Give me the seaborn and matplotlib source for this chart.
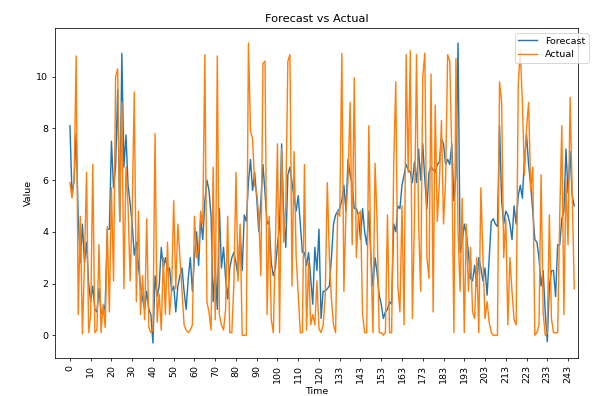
import matplotlib
matplotlib.use("Agg")
import matplotlib.pyplot as plt
import seaborn as sns
import numpy as np

actual = [
    5.9, 5.3, 6.0, 10.8, 0.8, 4.6, 0.05, 2.8, 6.3, 0.1,
    0.8, 6.6, 0.1, 0.2, 3.5, 0.1, 1.2, 0.3, 4.2, 0.9,
    5.7, 2.1, 10.0, 10.3, 4.4, 9.0, 1.8, 6.5, 5.0, 2.1,
    4.8, 9.4, 1.3, 4.8, 0.8, 2.3, 0.6, 4.5, 0.3, 0.1,
    0.2, 7.8, 0.5, 1.6, 0.2, 3.0, 0.8, 3.6, 0.8, 1.8,
    5.2, 1.8, 4.3, 3.0, 1.7, 0.4, 0.2, 0.1, 0.2, 0.4,
    4.6, 3.0, 3.3, 4.8, 4.3, 10.85, 1.3, 0.9, 0.2, 6.5,
    0.6, 10.8, 0.8, 0.4, 0.2, 1.0, 4.6, 0.1, 0.1, 2.0,
    6.3, 2.1, 4.3, 0.0, 0.0, 0.0, 11.3, 7.9, 7.6, 5.8,
    5.5, 4.6, 2.3, 10.5, 10.6, 0.8, 4.6, 0.6, 0.1, 3.5,
    7.4, 0.1, 7.2, 3.6, 5.0, 10.6, 10.85, 1.9, 7.1, 3.0,
    1.6, 0.1, 0.1, 6.6, 0.2, 2.8, 0.4, 0.8, 0.4, 2.1,
    0.25, 0.1, 0.4, 1.5, 5.9, 3.0, 1.4, 0.4, 0.1, 4.8,
    4.6, 10.9, 1.7, 4.8, 6.0, 9.0, 3.5, 9.95, 3.0, 4.65,
    4.8, 0.8, 0.1, 0.1, 8.1, 3.0, 0.1, 6.65, 4.4, 0.1,
    0.1, 0.0, 0.1, 4.65, 0.1, 0.1, 6.6, 9.8, 1.9, 0.9,
    5.0, 0.4, 10.85, 6.3, 11.0, 0.65, 4.5, 10.85, 4.3, 1.7,
    10.0, 10.9, 3.0, 2.2, 10.1, 0.9, 8.9, 4.4, 5.9, 8.3,
    4.3, 6.0, 10.85, 10.6, 7.0, 0.1, 10.7, 4.0, 1.7, 5.3,
    0.1, 4.3, 1.7, 3.4, 0.9, 0.65, 3.0, 0.1, 5.7, 3.0,
    0.65, 1.3, 0.5, 0.1, 0.0, 0.0, 0.0, 9.8, 9.0, 3.0,
    4.5, 0.4, 3.0, 1.7, 0.6, 0.4, 9.7, 11.0, 9.0, 6.2,
    8.0, 9.0, 5.6, 6.5, 0.0, 0.1, 0.4, 6.2, 0.9, 0.0,
    0.1, 4.65, 0.65, 0.1, 0.1, 0.1, 4.6, 8.1, 0.8, 6.0,
    3.5, 9.2, 5.5, 1.8,
]

forecast = [
    8.1, 5.4, 6.0, 7.8, 4.5, 2.8, 4.3, 2.8, 3.6, 2.0,
    1.3, 1.9, 1.0, 0.9, 1.8, 0.9, 0.8, 1.2, 4.1, 4.1,
    7.5, 5.7, 6.5, 9.5, 4.4, 10.9, 6.5, 7.75, 5.8, 5.1,
    4.3, 3.1, 3.6, 2.7, 1.9, 1.4, 1.0, 1.7, 1.0, 0.8,
    -0.3, 2.3, 1.5, 1.9, 3.4, 2.6, 3.0, 2.5, 2.6, 1.7,
    1.9, 0.9, 1.9, 2.3, 2.6, 1.7, 1.0, 2.2, 3.0, 1.7,
    3.0, 4.0, 2.7, 4.5, 3.7, 5.2, 6.0, 5.6, 4.6, 1.3,
    2.6, 1.0, 4.9, 2.6, 3.4, 2.2, 1.4, 2.6, 3.0, 3.2,
    2.8, 2.3, 4.0, 2.5, 4.65, 4.4, 5.9, 6.8, 5.6, 6.3,
    5.3, 4.0, 5.2, 6.6, 5.5, 4.3, 4.4, 2.8, 2.3, 2.6,
    3.5, 4.2, 7.4, 4.6, 3.4, 6.2, 6.5, 5.9, 5.3, 4.8,
    5.4, 4.3, 3.2, 3.2, 2.7, 3.2, 2.2, 1.2, 3.4, 2.5,
    4.1, 0.65, 1.7, 1.7, 1.8, 1.9, 3.0, 4.3, 4.65, 4.8,
    4.9, 5.2, 5.8, 4.8, 6.8, 6.2, 5.8, 4.9, 4.9, 4.65,
    3.7, 4.9, 4.0, 3.5, 4.8, 3.0, 1.9, 3.0, 2.4, 1.55,
    1.2, 0.65, 0.9, 1.0, 1.3, 1.2, 4.3, 4.0, 5.0, 4.9,
    5.8, 6.2, 6.6, 6.4, 6.3, 5.9, 6.7, 5.9, 7.2, 6.0,
    7.4, 6.0, 4.9, 6.3, 6.5, 6.4, 6.3, 6.6, 6.7, 7.6,
    7.4, 6.6, 6.8, 6.6, 7.4, 5.2, 6.2, 11.3, 3.2, 3.6,
    4.3, 3.9, 3.2, 2.2, 2.1, 2.7, 1.9, 3.0, 2.6, 2.1,
    2.6, 1.55, 3.0, 4.4, 4.5, 4.3, 4.2, 8.1, 5.2, 4.3,
    4.8, 4.65, 4.3, 3.7, 5.0, 4.3, 5.4, 5.8, 5.3, 6.8,
    7.75, 6.6, 5.8, 4.8, 3.7, 3.6, 3.0, 1.9, 2.5, 0.9,
    -0.25, 1.9, 2.5, 2.5, 1.5, 3.5, 3.5, 4.5, 4.8, 7.2,
    5.5, 7.1, 5.4, 5.0,
]

tick_labels = ["0", "10", "20", "30", "40", "50", "60", "70", "80", "90",
               "100", "110", "120", "133", "143", "153", "163", "173",
               "183", "193", "203", "213", "223", "233", "243"]

positions = list(range(len(actual)))

DPI = 68
fig = plt.figure(figsize=(593 / DPI, 396 / DPI), dpi=DPI)
ax = fig.add_axes([55 / 593, 1 - 358 / 396, (578 - 55) / 593, (358 - 28) / 396])

sns.lineplot(x=positions, y=forecast, ax=ax, label="Forecast", color="#1f77b4")
sns.lineplot(x=positions, y=actual, ax=ax, label="Actual", color="#ff7f0e")

ax.set_xticks(list(range(0, 10 * len(tick_labels), 10)))
ax.set_xticklabels(tick_labels, rotation=90)
ax.set_xlim(-7.2, 244.8)
ax.set_title("Forecast vs Actual")
ax.set_xlabel("Time")
ax.set_ylabel("Value")
ax.legend(loc="upper right", bbox_to_anchor=(1.03, 1.0))

fig.savefig("out.png", dpi=DPI)
